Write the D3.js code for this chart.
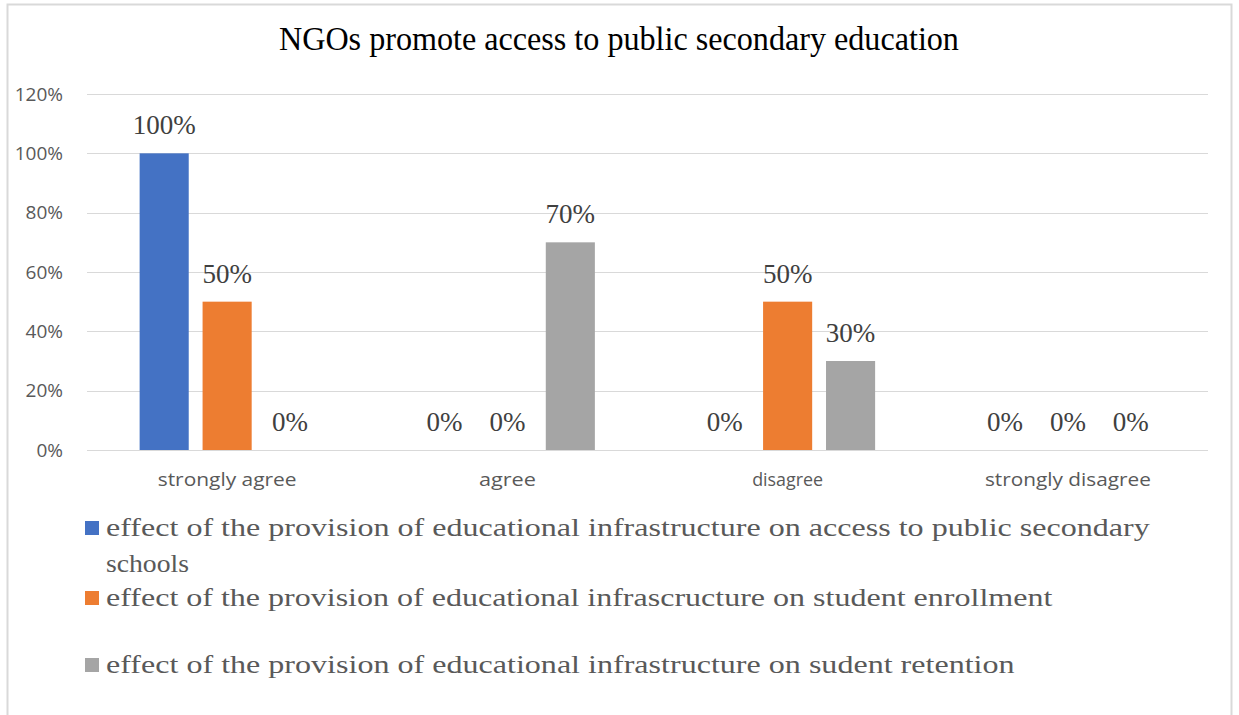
<!DOCTYPE html>
<html>
<head>
<meta charset="utf-8">
<script src="https://cdn.jsdelivr.net/npm/d3@7"></script>
<style>
  body { margin: 0; background: #fff; }
</style>
</head>
<body>
<div id="chart"></div>
<script>
var categories = ["strongly agree", "agree", "disagree", "strongly disagree"];
var legendLines = [
    ["effect of the provision of educational infrastructure on access to public secondary", "schools"],
    ["effect of the provision of educational infrascructure on student enrollment"],
    ["effect of the provision of educational infrastructure on sudent retention"]
];
var accessValues = [1.0, 0, 0, 0];
var enrollValues = [0.5, 0, 0.5, 0];
var retentionValues = [0, 0.7, 0.3, 0];
var seriesColors = ["#4472c4", "#ed7d31", "#a5a5a5"];
var yTicks = [0, 0.2, 0.4, 0.6, 0.8, 1.0, 1.2];

var W = 1239, H = 715;
var margin = { left: 87, right: 31, top: 94, bottom: 265 };
var width = W - margin.left - margin.right,
    height = H - margin.top - margin.bottom;

var serif = "Liberation Serif, Times New Roman, serif",
    sans = "Open Sans, DejaVu Sans, sans-serif";

var svg = d3.select("#chart").append("svg")
    .attr("width", W)
    .attr("height", H);

// stretch a text horizontally to the width seen in the picture
function stretch(sel, x, y, target){
    sel.each(function(d){
        var w = this.getComputedTextLength();
        var t = typeof target === "function" ? target(d) : target;
        d3.select(this).attr("x", 0).attr("y", 0)
            .attr("transform", "translate(" + x + "," + y + ") scale(" + (t / w) + ",1)");
    });
}

// chart frame
svg.append("rect")
    .attr("x", 7.5).attr("y", 4.5)
    .attr("width", 1224).attr("height", 720)
    .attr("fill", "#fff")
    .attr("stroke", "#d9d9d9")
    .attr("stroke-width", 2);

svg.append("text")
    .attr("font-family", serif)
    .attr("font-size", "34px")
    .attr("fill", "#000")
    .text("NGOs promote access to public secondary education")
    .call(stretch, 279, 50, 680);

var g = svg.append("g")
    .attr("transform", "translate(" + margin.left + "," + margin.top + ")");

var x0 = d3.scaleBand().domain(categories).range([0, width]);
var x1 = d3.scaleBand().domain(d3.range(3))
    .range([0, 175]).paddingInner(0.22);
var y = d3.scaleLinear().domain([0, 1.2]).range([height, 0]);

// gridlines
g.append("g").selectAll("line")
    .data(yTicks)
    .enter().append("line")
    .attr("x1", 0).attr("x2", width)
    .attr("y1", function(d){ return Math.round(y(d)) + 0.5; })
    .attr("y2", function(d){ return Math.round(y(d)) + 0.5; })
    .attr("stroke", "#d9d9d9")
    .attr("stroke-width", 1);

var yAxis = g.append("g")
    .call(d3.axisLeft(y).tickValues(yTicks).tickFormat(d3.format(".0%")).tickSize(0).tickPadding(24));
yAxis.select(".domain").remove();
yAxis.selectAll("text")
    .attr("font-family", sans)
    .attr("font-size", "19px")
    .attr("fill", "#595959");

// x labels, widths
var xLabelWidth = { "strongly agree": 139, "agree": 57, "disagree": 71, "strongly disagree": 166 };
var xAxis = g.append("g")
    .attr("transform", "translate(0," + height + ")")
    .call(d3.axisBottom(x0).tickSize(0));
xAxis.select(".domain").remove();
xAxis.selectAll("text")
    .attr("dy", 0)
    .attr("font-family", sans)
    .attr("font-size", "18px")
    .attr("fill", "#595959")
    .call(stretch, 0, 36, function(d){ return xLabelWidth[d]; });

var data = categories.map(function(c, i){
    return { cat: c, vals: [accessValues[i], enrollValues[i], retentionValues[i]] };
});

var groups = g.selectAll(".grp")
    .data(data)
    .enter().append("g")
    .attr("class", "grp")
    .attr("transform", function(d){
        return "translate(" + (x0(d.cat) + x0.bandwidth()/2 - 87.5) + ",0)";
    });

groups.selectAll("rect")
    .data(function(d){ return d.vals; })
    .enter().append("rect")
    .attr("x", function(d, i){ return x1(i); })
    .attr("width", x1.bandwidth())
    .attr("y", function(d){ return y(d); })
    .attr("height", function(d){ return height - y(d); })
    .attr("fill", function(d, i){ return seriesColors[i]; });

groups.selectAll("text")
    .data(function(d){ return d.vals; })
    .enter().append("text")
    .attr("x", function(d, i){ return x1(i) + x1.bandwidth()/2; })
    .attr("y", function(d){ return y(d) - 19; })
    .attr("text-anchor", "middle")
    .attr("font-family", serif)
    .attr("font-size", "27px")
    .attr("fill", "#404040")
    .text(function(d){ return d3.format(".0%")(d); });

// legend
var legendBase = [536, 606, 673];
var legendWidths = [[1044, 83], [947], [909]];
var legend = svg.append("g");
legendLines.forEach(function(lines, i){
    legend.append("rect")
        .attr("x", 85).attr("y", legendBase[i] - 15)
        .attr("width", 14).attr("height", 14)
        .attr("fill", seriesColors[i]);
    lines.forEach(function(t, j){
        legend.append("text")
            .attr("font-family", serif)
            .attr("font-size", "26px")
            .attr("fill", "#595959")
            .text(t)
            .call(stretch, 106, legendBase[i] + j * 36, legendWidths[i][j]);
    });
});
</script>
</body>
</html>
